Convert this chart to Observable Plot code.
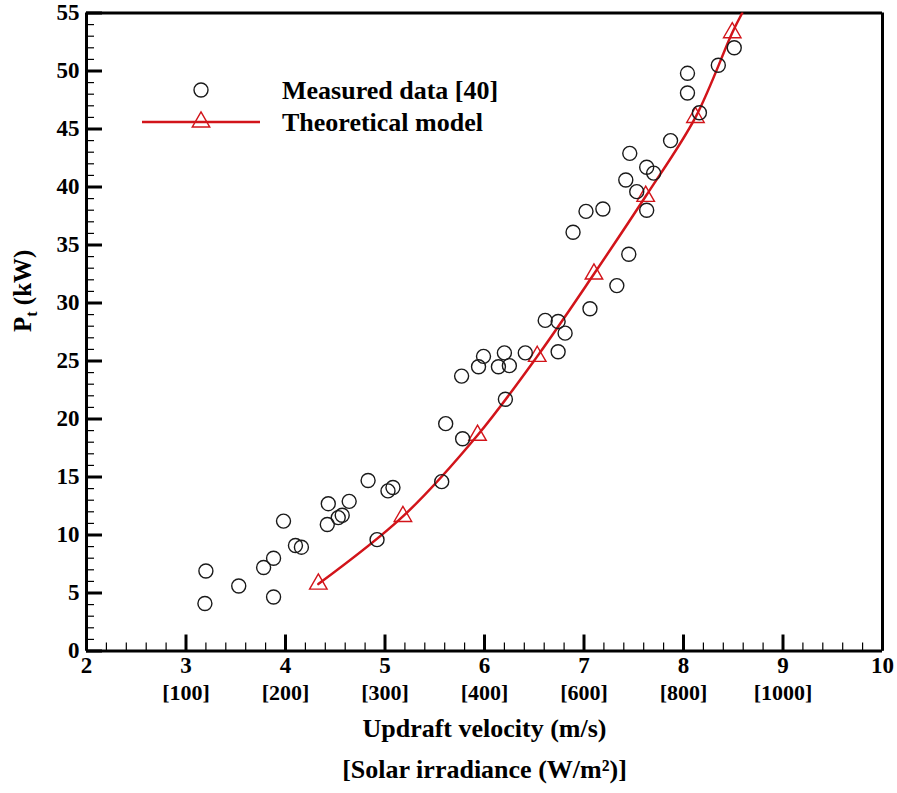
<!DOCTYPE html>
<html><head><meta charset="utf-8">
<script src="https://cdn.jsdelivr.net/npm/d3@7"></script>
<script src="https://cdn.jsdelivr.net/npm/@observablehq/plot@0.6"></script>
<style>body{margin:0;background:#fff} #chart{width:897px;height:793px}</style>
</head><body><div id="chart"></div>
<script>
// Measured data [40]
const measuredV = [3.19,3.20,3.53,3.78,3.88,3.88,3.98,4.10,4.16,4.42,4.43,4.53,4.57,4.64,4.83,4.92,5.03,5.08,5.57,5.61,5.78,5.77,5.94,5.99,6.14,6.20,6.25,6.21,6.41,6.61,6.74,6.81,6.74,6.89,7.02,7.06,7.19,7.33,7.42,7.45,7.46,7.53,7.63,7.63,7.70,7.87,8.04,8.04,8.16,8.35,8.51];
const measuredP = [4.1,6.9,5.6,7.2,8.0,4.65,11.2,9.1,8.95,10.9,12.7,11.5,11.7,12.9,14.7,9.6,13.8,14.1,14.6,19.6,18.3,23.7,24.5,25.4,24.5,25.7,24.6,21.7,25.7,28.5,28.4,27.4,25.8,36.1,37.9,29.5,38.1,31.5,40.6,34.2,42.9,39.6,41.7,38.0,41.2,44.0,49.8,48.1,46.4,50.5,52.0];
// Theoretical model (markers) and where its curve meets the top of the frame
const modelV = [4.33,5.18,5.93,6.53,7.10,7.62,8.12,8.49];
const modelP = [5.77,11.6,18.6,25.4,32.5,39.2,46.0,53.3];
const modelEndV = 8.59, modelEndP = 55;
// Tick labels
const xTickValues = [2,3,4,5,6,7,8,9,10];
const yTickValues = [0,5,10,15,20,25,30,35,40,45,50,55];
const irradianceTicks = [3,4,5,6,7,8,9];
const irradianceLabels = ["[100]","[200]","[300]","[400]","[600]","[800]","[1000]"];

const measured = measuredV.map((v,i)=>({v, p: measuredP[i]}));
const model = modelV.map((v,i)=>({v, p: modelP[i]}));
const modelLine = [...model, {v: modelEndV, p: modelEndP}];
const xMinor = d3.range(0, 41).map(i => 2 + i*0.2);
const yMinor = d3.range(0, 56);
const RED = "#d2141a";
const FONT = '"Liberation Serif","Times New Roman",serif';

const plot = Plot.plot({
  width: 897, height: 793,
  marginLeft: 86, marginRight: 15, marginTop: 12.5, marginBottom: 142.5,
  style: {fontFamily: FONT, fontWeight: "bold", fontSize: "23px", color: "#000", background: "#fff", overflow: "visible"},
  x: {domain: [2, 10], label: null},
  y: {domain: [0, 55], label: null},
  marks: [
    Plot.axisX(xMinor, {tickSize: -8, tickFormat: () => "", strokeWidth: 1.2, label: null}),
    Plot.axisY(yMinor, {tickSize: -8, tickFormat: () => "", strokeWidth: 1.2, label: null}),
    Plot.axisX(xTickValues, {tickSize: -16, tickPadding: 22, strokeWidth: 3, label: null, fontSize: 23}),
    Plot.axisY(yTickValues, {tickSize: -16, tickPadding: 23, strokeWidth: 3, label: null, fontSize: 23}),
    Plot.axisX(irradianceTicks, {tickSize: 0, tickPadding: 33, tickFormat: d => irradianceLabels[irradianceTicks.indexOf(d)], label: null, fontSize: 22}),
    Plot.ruleX([2], {strokeWidth: 3}),
    Plot.ruleY([0], {strokeWidth: 3}),
    Plot.ruleX([10], {strokeWidth: 3}),
    Plot.ruleY([55], {strokeWidth: 3}),
    Plot.line(modelLine, {x: "v", y: "p", stroke: RED, strokeWidth: 2.5, curve: "catmull-rom", clip: true}),
    Plot.dot(model, {x: "v", y: "p", symbol: "triangle", r: 6.5, stroke: RED, strokeWidth: 1.4, fill: "none"}),
    Plot.dot(measured, {x: "v", y: "p", r: 7, stroke: "#1a1a1a", strokeWidth: 1.4, fill: "none"}),
    Plot.text(["Updraft velocity (m/s)"], {frameAnchor: "bottom", dy: 86, fontSize: 26}),
    Plot.text(["[Solar irradiance (W/m²)]"], {frameAnchor: "bottom", dy: 127, fontSize: 26}),
    Plot.text(["P_t (kW)"], {frameAnchor: "left", dx: -64, rotate: -90, fontSize: 25})
  ]
});
document.getElementById("chart").appendChild(plot);

const svg = d3.select(plot);
// subscript in y label
svg.selectAll("text").filter(function(){ return this.textContent === "P_t (kW)"; })
  .each(function(){
    const t = d3.select(this);
    const target = t.select("tspan").empty() ? t : t.select("tspan");
    target.text("P");
    target.append("tspan").attr("dy", 6).attr("font-size", 16).text("t");
    target.append("tspan").attr("dy", -6).text(" (kW)");
  });

// legend
const lg = svg.append("g").attr("font-family", FONT).attr("font-weight", "bold").attr("font-size", 26).attr("text-anchor", "start");
lg.append("circle").attr("cx", 201).attr("cy", 90).attr("r", 7).attr("fill", "none").attr("stroke", "#1a1a1a").attr("stroke-width", 1.4);
lg.append("line").attr("x1", 142).attr("x2", 260).attr("y1", 122).attr("y2", 122).attr("stroke", RED).attr("stroke-width", 2.5);
lg.append("path").attr("transform", "translate(201,122)").attr("d", d3.symbol(d3.symbolTriangle, Math.PI*6.5*6.5)()).attr("fill", "none").attr("stroke", RED).attr("stroke-width", 1.4);
lg.append("text").attr("x", 282).attr("y", 90).attr("dy", "0.35em").attr("text-anchor", "start").text("Measured data [40]");
lg.append("text").attr("x", 282).attr("y", 122).attr("dy", "0.35em").attr("text-anchor", "start").text("Theoretical model");
</script></body></html>
